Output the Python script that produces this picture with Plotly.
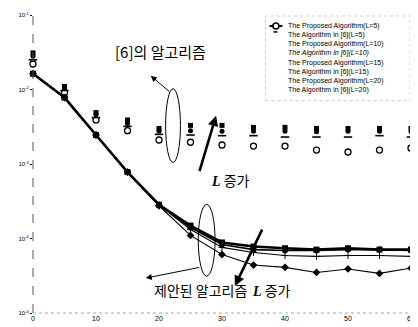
import plotly.graph_objects as go

# ---------------- data ----------------
snr = [0, 5, 10, 15, 20, 25, 30, 35, 40, 45, 50, 55, 60]

prop_L5 = [0.0163, 0.0078, 0.00245, 0.00078, 0.000284, 1.49e-4, 8.85e-5, 7.8e-5, 7.4e-5, 7.1e-5, 7.4e-5, 7.1e-5, 7.1e-5]
prop_L10 = [0.0163, 0.0078, 0.00245, 0.00078, 0.000284, 1.40e-4, 8.3e-5, 7.1e-5, 6.9e-5, 6.9e-5, 7.1e-5, 7.1e-5, 6.9e-5]
prop_L15 = [0.0163, 0.0078, 0.00245, 0.00078, 0.000280, 1.32e-4, 7.6e-5, 6.5e-5, 5.9e-5, 5.75e-5, 5.9e-5, 5.9e-5, 5.75e-5]
prop_L20 = [0.0163, 0.0078, 0.00245, 0.00078, 0.000275, 1.10e-4, 6.1e-5, 4.4e-5, 4.1e-5, 3.5e-5, 3.9e-5, 3.4e-5, 4.0e-5]

ref_L5 = [0.022, 0.0091, 0.0039, 0.0028, 0.0021, 0.00196, 0.0018, 0.00174, 0.00174, 0.00154, 0.00145, 0.00154, 0.00163]
ref_L10 = [0.025, 0.0097, 0.0042, 0.0032, 0.0025, 0.00245, 0.0024, 0.0024, 0.0023, 0.0023, 0.0023, 0.0024, 0.0023]
ref_L15 = [0.028, 0.0103, 0.0046, 0.0035, 0.00275, 0.0028, 0.00275, 0.00275, 0.00275, 0.0027, 0.00275, 0.00275, 0.0027]
ref_L20 = [0.031, 0.011, 0.0049, 0.0039, 0.0030, 0.0033, 0.0033, 0.0031, 0.0031, 0.0030, 0.0030, 0.0030, 0.0030]

legend_labels = [
    "The Proposed Algorithm(L=5)",
    "The Algorithm in [6](L=5)",
    "The Proposed Algorithm(L=10)",
    "<i>The Algorithm in [6](L=10)</i>",
    "The Proposed Algorithm(L=15)",
    "The Algorithm in [6](L=15)",
    "The Proposed Algorithm(L=20)",
    "The Algorithm in [6](L=20)",
]

x_ticks = [0, 10, 20, 30, 40, 50, 60]
y_tickvals = [1e-5, 1e-4, 1e-3, 1e-2, 1e-1]
y_ticktext = ["10<sup>-5</sup>", "10<sup>-4</sup>", "10<sup>-3</sup>", "10<sup>-2</sup>", "10<sup>-1</sup>"]

# ---------------- geometry helpers (layout only) ----------------
OFF = 8                      # default page body margin
PAGE_W, PAGE_H = 418, 327
W, H = PAGE_W - OFF, PAGE_H - OFF
P_L, P_R, P_T, P_B = 33, 415, 14, 313
ML, MR, MT, MB = P_L - OFF, (W + OFF) - P_R, P_T - OFF, (H + OFF) - P_B
PW, PH = P_R - P_L, P_B - P_T


def px(x):
    return (x - P_L) / PW


def py(y):
    return (P_B - y) / PH


fig = go.Figure()

# proposed algorithm
fig.add_trace(go.Scatter(x=snr, y=prop_L5, mode="lines+markers", cliponaxis=False,
                         line=dict(color="black", width=2.6),
                         marker=dict(symbol="square", size=6, color="black")))
fig.add_trace(go.Scatter(x=snr, y=prop_L10, mode="lines+markers", cliponaxis=False,
                         line=dict(color="black", width=1.6),
                         marker=dict(symbol="circle", size=6, color="black")))
fig.add_trace(go.Scatter(x=snr, y=prop_L15, mode="lines+markers", cliponaxis=False,
                         line=dict(color="black", width=1.1),
                         marker=dict(symbol="cross-thin-open", size=5, color="black", line=dict(width=1, color="black"))))
fig.add_trace(go.Scatter(x=snr, y=prop_L20, mode="lines+markers", cliponaxis=False,
                         line=dict(color="black", width=1.1),
                         marker=dict(symbol="diamond", size=6, color="black")))

# algorithm in [6]
fig.add_trace(go.Scatter(x=snr, y=ref_L5, mode="markers", cliponaxis=False,
                         marker=dict(symbol="circle-open", size=6, color="black", line=dict(width=1.3, color="black"))))
fig.add_trace(go.Scatter(x=snr, y=ref_L10, mode="markers", cliponaxis=False,
                         marker=dict(symbol="line-ew-open", size=6, color="black", line=dict(width=1.6, color="black"))))
fig.add_trace(go.Scatter(x=snr, y=ref_L15, mode="markers", cliponaxis=False,
                         marker=dict(symbol="circle", size=5, color="black")))
fig.add_trace(go.Scatter(x=snr, y=ref_L20, mode="markers", cliponaxis=False,
                         marker=dict(symbol="square", size=5, color="black")))

shapes = []
annotations = []

# scanned-looking axes
shapes.append(dict(type="line", xref="paper", yref="paper", x0=0, x1=0, y0=0, y1=1,
                   line=dict(color="#555", width=1, dash="dash")))
shapes.append(dict(type="line", xref="paper", yref="paper", x0=0, x1=1, y0=0, y1=0,
                   line=dict(color="#aaa", width=1, dash="dot")))

# ellipses
shapes.append(dict(type="circle", xref="paper", yref="paper",
                   x0=px(167), x1=px(182), y0=py(162), y1=py(88),
                   line=dict(color="black", width=1)))
shapes.append(dict(type="circle", xref="paper", yref="paper",
                   x0=px(200), x1=px(217), y0=py(276), y1=py(204),
                   line=dict(color="black", width=1)))

# legend box and samples
shapes.append(dict(type="rect", xref="paper", yref="paper",
                   x0=px(268), x1=px(414), y0=py(100), y1=py(15),
                   line=dict(color="#ccc", width=1, dash="dot")))
shapes.append(dict(type="line", xref="paper", yref="paper", x0=px(272), x1=px(285), y0=py(25), y1=py(25),
                   line=dict(color="black", width=2)))
shapes.append(dict(type="circle", xref="paper", yref="paper", x0=px(275.5), x1=px(281.5), y0=py(28), y1=py(22),
                   line=dict(color="black", width=1.5), fillcolor="white"))
shapes.append(dict(type="line", xref="paper", yref="paper", x0=px(276), x1=px(280), y0=py(31), y1=py(31),
                   line=dict(color="black", width=1.5)))

legend_y = [25, 34, 43, 52, 62, 71, 80, 89]
for lab, yy in zip(legend_labels, legend_y):
    annotations.append(dict(text=lab, xref="paper", yref="paper", x=px(289), y=py(yy),
                            xanchor="left", yanchor="middle", showarrow=False,
                            font=dict(family="Arial, Liberation Sans", size=7, color="black")))

kfont = dict(family="Noto Sans CJK KR", size=14, color="black")
Lspan = "<span style='font-family:Liberation Serif;font-style:italic;font-weight:bold'>L</span>"

annotations.append(dict(text="[6]의 알고리즘", xref="paper", yref="paper", x=px(162), y=py(51),
                        yanchor="middle", showarrow=False, font=dict(family="Noto Sans CJK KR", size=15, color="black")))
annotations.append(dict(text=Lspan + " 증가", xref="paper", yref="paper", x=px(233), y=py(180),
                        yanchor="middle", showarrow=False, font=kfont))
annotations.append(dict(text="제안된 알고리즘", xref="paper", yref="paper", x=px(153), y=py(290),
                        yanchor="middle", showarrow=False, font=kfont))
annotations.append(dict(text=Lspan + " 증가", xref="paper", yref="paper", x=px(274), y=py(290),
                        yanchor="middle", showarrow=False, font=kfont))


def arrow(hx, hy, tx, ty, w, size):
    return dict(text="", xref="paper", yref="paper", x=px(hx), y=py(hy),
                ax=tx - hx, ay=ty - hy, axref="pixel", ayref="pixel",
                showarrow=True, arrowhead=2, arrowsize=size, arrowwidth=w, arrowcolor="black")


annotations.append(arrow(152, 75, 172, 92, 1, 1.2))
annotations.append(arrow(218, 115, 201, 172, 2.6, 0.8))
annotations.append(arrow(237, 286, 265, 228, 2.6, 0.8))
annotations.append(arrow(147, 278, 202, 267, 1, 1.2))

fig.update_layout(
    width=W, height=H,
    margin=dict(l=ML, r=MR, t=MT, b=MB),
    paper_bgcolor="white", plot_bgcolor="white",
    showlegend=False,
    shapes=shapes, annotations=annotations,
    font=dict(family="Arial, Liberation Sans", color="black"),
)
fig.update_xaxes(range=[0, 60], tickvals=x_ticks, ticktext=[str(v) for v in x_ticks],
                 showgrid=False, zeroline=False, showline=False, ticks="",
                 ticklabeloverflow="allow",
                 tickfont=dict(size=7, family="Arial Black, Liberation Sans", color="black"))
fig.update_yaxes(type="log", range=[-5, -1], tickvals=y_tickvals, ticktext=y_ticktext,
                 showgrid=False, zeroline=False, showline=False, ticks="outside", ticklen=2,
                 tickcolor="black", tickfont=dict(size=6, color="black"))

fig.write_html("out.html")
